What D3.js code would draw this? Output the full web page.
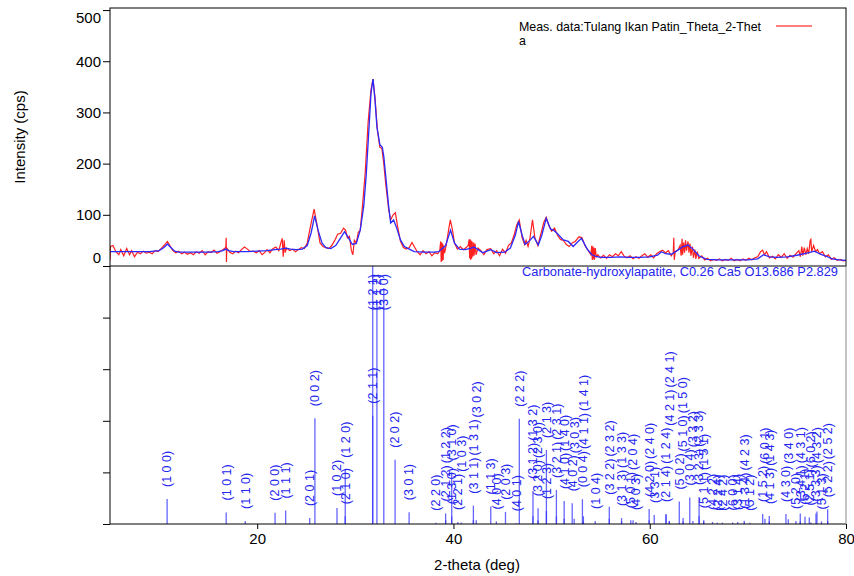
<!DOCTYPE html>
<html>
<head>
<meta charset="utf-8">
<script src="https://cdn.jsdelivr.net/npm/d3@7"></script>
<style>
  body { margin: 0; background: #fff; }
  svg { font-family: "Liberation Sans", Arial, sans-serif; }
</style>
</head>
<body>
<svg id="chart" width="854" height="576"></svg>
<script>
// measured pattern (red), [2-theta, cps]
const measured = [
  [5.0,12],[5.05,38],[5.3,40],[5.6,28],[5.9,22],[6.1,32],[6.4,20],[6.7,34],[7.0,22],[7.2,30],[7.5,18],[7.8,27],
  [8.1,24],[8.4,29],[8.7,25],[9.0,27],[9.3,24],[9.6,30],[9.9,28],[10.2,34],[10.5,40],[10.85,48],[11.1,40],[11.4,30],
  [11.7,26],[12.0,29],[12.3,24],[12.6,27],[12.9,23],[13.2,26],[13.5,22],[13.8,28],[14.1,25],[14.4,30],[14.7,22],
  [15.0,28],[15.3,26],[15.6,31],[15.9,25],[16.2,28],[16.5,32],[16.8,36],[16.84,55],[16.87,8],[16.9,35],[17.2,27],
  [17.5,24],[17.8,29],[18.1,26],[18.4,32],[18.7,37],[19.0,33],[19.3,28],[19.6,29],[19.9,26],[20.2,30],[20.5,22],
  [20.8,27],[21.0,32],[21.3,26],[21.6,34],[21.9,37],[22.2,30],[22.45,48],[22.55,54],[22.65,18],[22.75,50],[22.85,26],
  [23.0,35],[23.3,30],[23.6,33],[23.9,28],[24.2,32],[24.5,36],[24.8,34],[25.1,45],[25.4,75],[25.8,111],[26.1,80],
  [26.4,45],[26.7,38],[27.0,36],[27.3,34],[27.6,40],[27.9,50],[28.2,62],[28.5,64],[28.8,74],[29.0,70],[29.2,55],
  [29.4,58],[29.6,30],[29.75,22],[29.9,50],[30.1,45],[30.3,66],[30.5,70],[30.7,111],[31.0,180],[31.3,280],[31.6,345],
  [31.8,365],[32.0,330],[32.25,265],[32.5,232],[32.7,230],[32.9,200],[33.1,160],[33.4,110],[33.6,90],[33.85,100],
  [34.08,104],[34.3,78],[34.6,48],[34.9,36],[35.2,33],[35.5,36],[35.77,46],[36.0,38],[36.3,28],[36.6,22],[36.9,30],
  [37.2,24],[37.5,28],[37.8,20],[38.1,26],[38.4,24],[38.6,30],[38.7,48],[38.75,8],[38.8,46],[38.85,10],[38.9,44],
  [38.95,12],[39.0,40],[39.1,25],[39.3,45],[39.5,70],[39.68,90],[39.9,70],[40.1,45],[40.4,33],[40.7,38],[41.0,32],
  [41.3,36],[41.5,40],[41.6,52],[41.65,15],[41.7,52],[41.75,12],[41.8,50],[41.85,14],[41.9,48],[41.95,18],[42.05,46],
  [42.1,20],[42.2,44],[42.3,22],[42.5,35],[42.8,30],[43.1,22],[43.4,32],[43.8,34],[44.1,24],[44.4,30],[44.7,20],
  [45.0,33],[45.3,25],[45.6,40],[45.9,45],[46.2,62],[46.45,80],[46.7,90],[47.0,55],[47.25,42],[47.4,50],[47.6,38],
  [47.8,55],[48.05,90],[48.3,55],[48.6,40],[48.9,62],[49.2,85],[49.45,95],[49.7,80],[50.0,68],[50.3,74],[50.6,60],
  [50.9,52],[51.2,50],[51.5,42],[51.8,38],[52.1,45],[52.4,48],[52.8,57],[53.1,55],[53.4,40],[53.6,34],[53.8,28],
  [54.0,22],[54.1,40],[54.15,12],[54.2,38],[54.25,14],[54.3,36],[54.35,12],[54.45,35],[54.55,18],[54.7,22],[55.0,16],
  [55.3,21],[55.6,15],[55.9,22],[56.2,18],[56.5,24],[56.8,20],[57.1,28],[57.4,19],[57.7,16],[58.0,20],[58.3,14],
  [58.6,18],[58.9,15],[59.2,20],[59.5,24],[59.8,17],[60.1,22],[60.4,16],[60.7,24],[61.0,28],[61.3,31],[61.6,26],
  [61.9,30],[62.2,20],[62.4,26],[62.45,55],[62.5,12],[62.6,28],[62.9,32],[63.1,40],[63.2,20],[63.3,53],[63.35,22],
  [63.45,46],[63.55,26],[63.65,50],[63.75,30],[63.9,48],[64.0,26],[64.1,44],[64.2,20],[64.35,38],[64.45,16],[64.6,32],
  [64.7,14],[64.85,28],[65.0,15],[65.3,20],[65.6,12],[65.9,15],[66.2,10],[66.5,13],[66.8,11],[67.1,14],[67.4,10],
  [67.7,13],[68.0,11],[68.3,15],[68.6,10],[68.9,13],[69.2,10],[69.5,14],[69.8,11],[70.1,15],[70.4,12],[70.7,16],
  [71.0,18],[71.3,28],[71.5,31],[71.7,22],[71.9,28],[72.2,16],[72.5,19],[72.8,14],[73.1,22],[73.4,17],[73.7,24],
  [74.0,15],[74.3,21],[74.6,17],[74.9,24],[75.2,30],[75.35,18],[75.5,38],[75.6,20],[75.75,36],[75.9,22],[76.05,34],
  [76.2,24],[76.35,50],[76.42,52],[76.5,28],[76.7,40],[76.9,28],[77.1,32],[77.3,24],[77.6,28],[77.9,18],[78.2,22],
  [78.5,13],[78.8,16],[79.1,11],[79.4,13],[79.7,10],[80.0,11]
];

// calculated profile (blue), [2-theta, cps]
const calculated = [
  [5,28],[6,28],[7,28],[8,28],[9,28],[10,30],[10.5,36],[10.85,43],[11.2,36],[11.6,29],[12,27],[13,27],[14,27],
  [15,27],[16,28],[16.5,30],[16.8,33],[17.1,30],[17.6,28],[18,28],[19,28],[20,29],[21,30],[21.8,32],[22.4,33],
  [22.9,35],[23.4,33],[24,32],[24.6,33],[25.1,40],[25.5,65],[25.85,98],[26.2,70],[26.6,45],[27,36],[27.5,34],
  [28,40],[28.5,55],[28.9,67],[29.3,55],[29.7,42],[30.1,44],[30.5,70],[30.85,116],[31.1,175],[31.4,272],[31.6,338],
  [31.8,365],[32.0,325],[32.2,272],[32.5,237],[32.75,232],[32.9,214],[33.1,175],[33.4,116],[33.6,84],[33.9,90],
  [34.2,75],[34.6,51],[35.0,38],[35.5,33],[36,28],[37,27],[38,27],[38.5,28],[39.2,40],[39.7,70],[40.1,45],[40.6,33],
  [41.2,32],[41.8,35],[42.1,37],[42.5,32],[43,26],[43.8,32],[44.4,26],[45.2,27],[45.8,35],[46.3,60],[46.63,87],
  [47.0,60],[47.3,42],[47.8,50],[48.15,58],[48.65,41],[49.0,60],[49.45,93],[49.9,72],[50.2,70],[50.55,64],[51.2,51],
  [51.7,48],[52.2,38],[52.6,46],[53.05,54],[53.6,34],[54.1,22],[54.5,19],[55,17],[56,17],[57,18],[58,17],[59,17],
  [60,18],[60.8,21],[61.2,28],[61.6,24],[62.2,23],[62.8,30],[63.4,38],[63.9,41],[64.4,33],[65,20],[65.8,13],[67,12],
  [68,12],[69,12],[70,12],[71,14],[71.6,22],[72.2,18],[73,17],[74,18],[75,21],[76,25],[76.8,29],[77.4,23],[78,19],
  [78.6,14],[79.3,12],[80,11]
];

// reference pattern sticks
const stickTheta = [10.82,16.84,18.78,21.82,22.90,25.35,25.88,28.13,28.97,28.97,31.77,31.77,32.20,32.90,34.05,35.48,
  38.20,39.20,39.20,39.82,39.82,40.45,40.80,42.03,42.03,42.32,43.80,44.37,45.30,46.40,46.71,48.10,48.10,48.62,48.62,
  49.47,49.47,50.49,50.49,51.28,51.28,52.10,52.30,53.14,53.24,53.24,54.44,55.88,55.88,57.13,57.13,58.07,58.30,58.60,
  59.94,59.94,60.46,61.66,61.66,62.00,62.00,63.01,63.40,63.40,64.08,64.40,65.03,65.03,65.50,65.50,66.40,66.90,67.40,
  68.45,68.96,69.63,69.63,70.20,71.51,71.74,72.18,72.18,73.88,74.12,74.90,75.34,75.34,75.82,76.26,76.43,76.94,77.04,
  77.50,78.13,78.13];
const stickInt = [9.7,4.5,1.2,4.4,5.2,2.3,41,6.2,3,21,42,100,86.7,91.5,24.9,4.6,
  0.5,4.1,1.5,20,3,0.8,0.6,7.1,1.5,1.5,6.8,1,4.7,0.3,40.8,12.8,3,6.1,1.5,
  28.7,5,13.2,3,8.9,2,8,2,9.6,3,1,1.2,6.7,2,2.3,1,1.5,1.5,0.8,
  5.8,1.5,3.5,3.9,3.6,1.2,1,8.7,2.3,1,10.3,1.2,10.5,3,1.5,1,0.8,0.5,0.5,
  0.6,0.8,1.3,0.5,0.5,3.9,2,3.1,1,3.9,1.8,1.2,4.1,1,2.8,2.5,0.6,4.1,4.8,
  1,5.7,1];
const stickHkl = ["(1 0 0)","(1 0 1)","(1 1 0)","(2 0 0)","(1 1 1)","(2 0 1)","(0 0 2)","(1 0 2)","(2 1 0)","(1 2 0)",
  "(2 1 1)","(1 2 1)","(1 1 2)","(3 0 0)","(2 0 2)","(3 0 1)",
  "(2 2 0)","(2 1 2)","(1 2 2)","(3 1 0)","(1 3 0)","(2 2 1)","(1 0 3)","(3 1 1)","(1 3 1)","(3 0 2)","(1 1 3)","(4 0 0)",
  "(2 0 3)","(4 0 1)","(2 2 2)","(3 1 2)","(1 3 2)","(3 2 0)","(2 3 0)",
  "(2 1 3)","(1 2 3)","(3 2 1)","(2 3 1)","(4 1 0)","(1 4 0)","(4 0 2)","(3 0 3)","(0 0 4)","(4 1 1)","(1 4 1)","(1 0 4)",
  "(3 2 2)","(2 3 2)","(3 1 3)","(1 3 3)","(5 0 1)","(2 0 4)","(4 0 3)",
  "(4 2 0)","(2 4 0)","(3 3 1)","(2 1 4)","(1 2 4)","(4 2 1)","(2 4 1)","(5 0 2)","(5 1 0)","(1 5 0)","(3 0 4)","(3 3 2)",
  "(3 2 3)","(2 3 3)","(5 1 1)","(1 5 1)","(4 2 2)","(2 2 4)","(2 4 2)",
  "(6 0 0)","(3 1 4)","(1 3 4)","(4 2 3)","(5 1 2)","(1 5 2)","(6 0 1)","(4 1 3)","(1 4 3)","(4 3 0)","(3 4 0)","(5 2 0)",
  "(3 4 1)","(4 3 1)","(5 2 1)","(2 5 1)","(6 0 2)","(3 3 3)","(4 3 2)",
  "(5 1 3)","(5 2 2)","(2 5 2)"];

const yTicks = [0, 100, 200, 300, 400, 500];
const relTicks = [0, 20, 40, 60, 80];
const xTicks = [20, 40, 60, 80];
const measName = ["Meas. data:Tulang Ikan Patin_Theta_2-Thet", "a"];
const phaseName = "Carbonate-hydroxylapatite, C0.26 Ca5 O13.686 P2.829";

const pLeft = 110, pRight = 846, pTop = 8, pMid = 266, pBottom = 524;

const svg = d3.select("#chart");

const x = d3.scaleLinear().domain([5, 80]).range([pLeft, pRight]);
const y = d3.scaleLinear().domain([0, 504]).range([pMid, pTop]);
const yRel = d3.scaleLinear().domain([0, 100]).range([pBottom, pMid]);

// clip for the upper panel
svg.append("defs").append("clipPath").attr("id", "clipTop")
  .append("rect").attr("x", pLeft).attr("y", pTop).attr("width", pRight - pLeft).attr("height", pMid - pTop);

const line = d3.line().x(d => x(d[0])).y(d => y(d[1]));

svg.append("path")
    .datum(measured)
    .attr("clip-path", "url(#clipTop)")
    .attr("fill", "none")
    .attr("stroke", "#ff2020")
    .attr("stroke-width", 1.2)
    .attr("d", line);

svg.append("path")
    .datum(calculated)
    .attr("clip-path", "url(#clipTop)")
    .attr("fill", "none")
    .attr("stroke", "#2a2aff")
    .attr("stroke-width", 1.3)
    .attr("d", line);

// sticks
const sticks = stickTheta.map((t, i) => ({ t: t, v: stickInt[i], hkl: stickHkl[i] }));

svg.append("g")
  .selectAll("line")
  .data(sticks)
  .join("line")
    .attr("x1", d => x(d.t)).attr("x2", d => x(d.t))
    .attr("y1", pBottom).attr("y2", d => yRel(d.v))
    .attr("stroke", "#3333ff")
    .attr("stroke-opacity", 0.75)
    .attr("stroke-width", 1.3);

// hkl labels, rotated, stacked when sticks share a position
const labels = svg.append("g")
    .attr("fill", "#2525f0")
    .style("font-size", "12.5px");

const placed = [];
sticks.forEach(d => {
  const px = x(d.t);
  const txt = labels.append("text").text(d.hkl).attr("dy", "0.35em");
  const len = txt.node().getComputedTextLength();
  let base = yRel(d.v) - 12;
  let moved = true;
  while (moved) {
    moved = false;
    for (const p of placed) {
      if (Math.abs(p.x - px) < 4 && base > p.end - 1 && base - len < p.base + 1) {
        base = p.end - 2;
        moved = true;
      }
    }
  }
  if (base - len < pMid + 8) base = pMid + 8 + len;
  placed.push({ x: px, base: base, end: base - len });
  txt.attr("transform", `translate(${px},${base}) rotate(-90)`);
});

// frame and axes
const frame = svg.append("g").attr("fill", "none").attr("stroke", "#000").attr("stroke-width", 1);
frame.append("rect").attr("x", pLeft).attr("y", pTop).attr("width", pRight - pLeft).attr("height", pMid - pTop);
frame.append("line").attr("x1", pLeft).attr("x2", pLeft).attr("y1", pMid).attr("y2", pBottom);
frame.append("line").attr("x1", pLeft).attr("x2", pRight).attr("y1", pBottom).attr("y2", pBottom);
frame.append("line").attr("x1", pRight).attr("x2", pRight).attr("y1", pMid).attr("y2", pBottom)
  .attr("stroke", "#888");

const yAxis = svg.append("g").attr("transform", `translate(${pLeft},0)`)
  .call(d3.axisLeft(y).tickValues(yTicks).tickSize(7).tickSizeOuter(0).tickPadding(2));
yAxis.select(".domain").remove();
yAxis.selectAll("text")
  .style("font-size", "15px")
  .attr("fill", "#000")
  .attr("y", d => Math.min(Math.max(y(d), pTop + 10), pMid - 8) - y(d));

const relAxis = svg.append("g").attr("transform", `translate(${pLeft},0)`)
  .call(d3.axisLeft(yRel).tickValues(relTicks).tickSize(7).tickFormat(""));
relAxis.select(".domain").remove();

const xAxis = svg.append("g").attr("transform", `translate(0,${pBottom})`)
  .call(d3.axisBottom(x).tickValues(xTicks).tickSize(5).tickPadding(4));
xAxis.select(".domain").remove();
xAxis.selectAll("text").style("font-size", "15px").attr("fill", "#000");

svg.selectAll(".tick line").attr("stroke", "#000");

// titles
svg.append("text")
  .attr("transform", `translate(25,137) rotate(-90)`)
  .attr("text-anchor", "middle")
  .style("font-size", "15px")
  .text("Intensity (cps)");

svg.append("text")
  .attr("x", 477).attr("y", 570)
  .attr("text-anchor", "middle")
  .style("font-size", "15px")
  .text("2-theta (deg)");

// legend
svg.append("g").style("font-size", "12.4px")
  .selectAll("text")
  .data(measName)
  .join("text")
    .attr("x", 519)
    .attr("y", (d, i) => 31 + i * 14)
    .text(d => d);
svg.append("line")
  .attr("x1", 776).attr("x2", 812).attr("y1", 26).attr("y2", 26)
  .attr("stroke", "#ff0000").attr("stroke-width", 1.2);

svg.append("text")
  .attr("x", 838).attr("y", 276)
  .attr("text-anchor", "end")
  .attr("fill", "#2525f0")
  .attr("textLength", 316)
  .attr("lengthAdjust", "spacingAndGlyphs")
  .style("font-size", "12.5px")
  .text(phaseName);
</script>
</body>
</html>
